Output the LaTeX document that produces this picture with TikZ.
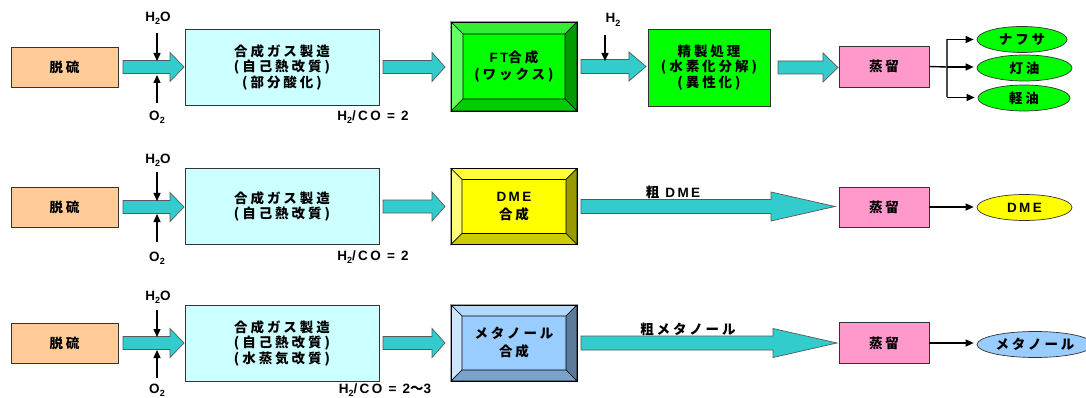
\documentclass[tikz,border=0pt]{standalone}
\usepackage{fontspec}
\setmainfont{Noto Sans CJK JP}[LetterSpace=22]
\newfontfamily\lat{Liberation Sans}[LetterSpace=18]
\usetikzlibrary{calc,arrows.meta,shapes.geometric}
\definecolor{peach}{HTML}{FFCC99}
\definecolor{paleblue}{HTML}{CCFFFF}
\definecolor{teal}{HTML}{33CCCC}
\definecolor{lime}{HTML}{00FF00}
\definecolor{limeL}{HTML}{66FF66}
\definecolor{limeT}{HTML}{33EE33}
\definecolor{limeR}{HTML}{009900}
\definecolor{limeB}{HTML}{00CC00}
\definecolor{yel}{HTML}{FFFF00}
\definecolor{yelL}{HTML}{FFFF77}
\definecolor{yelT}{HTML}{FFFF33}
\definecolor{yelR}{HTML}{999900}
\definecolor{yelB}{HTML}{CCCC00}
\definecolor{sky}{HTML}{99CCFF}
\definecolor{skyL}{HTML}{CCE6FF}
\definecolor{skyT}{HTML}{B3D9FF}
\definecolor{skyR}{HTML}{5C7A99}
\definecolor{skyB}{HTML}{7AA3CC}
\definecolor{pink}{HTML}{FF99CC}
\newcommand\subs[1]{\raisebox{-0.25em}{\fontsize{9}{9}\selectfont #1}}
\newcommand\bevel[6]{%
 \draw[bevline, fill=#3] (#1.north west) -- (#1.north east) -- ([xshift=-#2,yshift=-#2]#1.north east) -- ([xshift=#2,yshift=-#2]#1.north west) -- cycle;
 \draw[bevline, fill=#4] (#1.north west) -- ([xshift=#2,yshift=-#2]#1.north west) -- ([xshift=#2,yshift=#2]#1.south west) -- (#1.south west) -- cycle;
 \draw[bevline, fill=#5] (#1.north east) -- ([xshift=-#2,yshift=-#2]#1.north east) -- ([xshift=-#2,yshift=#2]#1.south east) -- (#1.south east) -- cycle;
 \draw[bevline, fill=#6] (#1.south west) -- ([xshift=#2,yshift=#2]#1.south west) -- ([xshift=-#2,yshift=#2]#1.south east) -- (#1.south east) -- cycle;
 \draw[bevline] (#1.north west) rectangle (#1.south east);}
% #1 from, #2 to, #3 start gap, #4 end gap, #5 head length, #6 shaft half
\newcommand\fatarrow[6]{%
 \draw[fatstyle] let \p1=($(#1.east)+(#3pt,0)$), \p2=($(#2.west)-(#4pt,0)$) in
 (\x1,\y1+#6pt) -- (\x2-#5pt,\y1+#6pt) -- (\x2-#5pt,\y1+14.5pt) -- (\x2,\y1) --
 (\x2-#5pt,\y1-14.5pt) -- (\x2-#5pt,\y1-#6pt) -- (\x1,\y1-#6pt) -- cycle;}
\begin{document}
\begin{tikzpicture}[x=1pt,y=-1pt,
  font=\fontsize{13.5}{15.5}\selectfont\bfseries,
  box/.style={draw=black!80, line width=0.8pt, align=center, inner sep=0pt, outer sep=0pt},
  bevline/.style={draw=black, line width=0.6pt},
  fatstyle/.style={draw=black!65, line width=0.7pt, fill=teal},
  thinarrow/.style={-{Triangle[length=8pt,width=7pt]}, line width=1.4pt},
  thinline/.style={line width=1.4pt},
  lbl/.style={inner sep=0pt, align=center},
  latlbl/.style={inner sep=0pt, align=center, font=\lat\fontsize{13.5}{13.5}\selectfont\bfseries},
  prod/.style={ellipse, draw=black!80, line width=0.7pt, inner sep=0pt, minimum height=26}]
\useasboundingbox[fill=white] (0,0) rectangle (1086,398);

% ---------- Row 1 ----------
\node[box, fill=peach, minimum width=107, minimum height=40] (ds1) at (64.5,67) {脱硫};
\node[box, fill=paleblue, minimum width=194, minimum height=76] (sg1) at (282,67) {合成ガス製造\\(自己熱改質)\\(部分酸化)};
\node[box, fill=lime, minimum width=126, minimum height=89, font=\fontsize{13.5}{17}\selectfont\bfseries] (ft) at (514,66.5) {{\lat FT}合成\\(ワックス)};
\bevel{ft}{12pt}{limeT}{limeL}{limeR}{limeB}
\node[box, fill=lime, minimum width=122, minimum height=77] (rf) at (709,67.5) {精製処理\\(水素化分解)\\(異性化)};
\node[box, fill=pink, minimum width=90, minimum height=41] (di1) at (884,66.5) {蒸留};
\node[prod, fill=lime, minimum width=90] (naph) at (1022,39.5) {ナフサ};
\node[prod, fill=lime, minimum width=95] (kero) at (1024.5,68) {灯油};
\node[prod, fill=lime, minimum width=92] (gasoil) at (1024,98) {軽油};

\fatarrow{ds1}{sg1}{5}{1}{14}{6.5}
\fatarrow{sg1}{ft}{4}{6}{13}{6.5}
\fatarrow{ft}{rf}{4}{2}{17}{7}
\fatarrow{rf}{di1}{8}{1}{15}{6.5}

\node[latlbl] (h2o1) at (158,18) {H\subs{2}O};
\node[latlbl] (o21) at (157,117) {O\subs{2}};
\node[latlbl] (ratio1) at (373,117) {H\subs{2}/CO = 2};
\node[latlbl] (h2) at (613,20) {H\subs{2}};
\coordinate (w1a) at (157,33);  \coordinate (w1b) at (157,61);
\coordinate (o1a) at (157,103); \coordinate (o1b) at (157,75);
\coordinate (h2a) at (605,35);  \coordinate (h2b) at (605,61);
\draw[thinarrow] (w1a) -- (w1b);
\draw[thinarrow] (o1a) -- (o1b);
\draw[thinarrow] (h2a) -- (h2b);

\coordinate (br) at (947,67);
\coordinate (bt) at (947,39.5);
\coordinate (bb) at (947,97.5);
\draw[thinline] (di1.east) -- (br);
\draw[line width=1.4pt, black!70] (bt) -- (bb);
\draw[thinarrow] (bt) -- ([xshift=-3pt]bt -| naph.west);
\draw[thinarrow] (br) -- ([xshift=-3pt]br -| kero.west);
\draw[thinarrow] (bb) -- ([xshift=-3pt]bb -| gasoil.west);

% ---------- Row 2 ----------
\node[box, fill=peach, minimum width=107, minimum height=40] (ds2) at (64.5,207) {脱硫};
\node[box, fill=paleblue, minimum width=194, minimum height=76] (sg2) at (282,206.5) {合成ガス製造\\(自己熱改質)};
\node[box, fill=yel, minimum width=126, minimum height=76, font=\fontsize{13.5}{18}\selectfont\bfseries] (dme) at (514,206.5) {{\lat DME}\\合成};
\bevel{dme}{11pt}{yelT}{yelL}{yelR}{yelB}
\node[box, fill=pink, minimum width=90, minimum height=40] (di2) at (884,207) {蒸留};
\node[prod, fill=yel, minimum width=95, font=\lat\fontsize{13.5}{13.5}\selectfont\bfseries] (dmeP) at (1024.5,207.5) {DME};

\fatarrow{ds2}{sg2}{5}{1}{14}{6.5}
\fatarrow{sg2}{dme}{4}{6}{13}{6.5}
\fatarrow{dme}{di2}{4}{4}{64}{7}
\node[lbl] (crude1) at (673,192) {粗 {\lat DME}};

\node[latlbl] (h2o2) at (158,160) {H\subs{2}O};
\node[latlbl] (o22) at (157,258) {O\subs{2}};
\node[latlbl] (ratio2) at (373,257) {H\subs{2}/CO = 2};
\coordinate (w2a) at (157,172); \coordinate (w2b) at (157,201);
\coordinate (o2a) at (157,242); \coordinate (o2b) at (157,214);
\draw[thinarrow] (w2a) -- (w2b);
\draw[thinarrow] (o2a) -- (o2b);
\draw[thinarrow] (di2.east) -- ([xshift=-3pt]di2.east -| dmeP.west);

% ---------- Row 3 ----------
\node[box, fill=peach, minimum width=107, minimum height=40] (ds3) at (64.5,343) {脱硫};
\node[box, fill=paleblue, minimum width=194, minimum height=76] (sg3) at (282,343) {合成ガス製造\\(自己熱改質)\\(水蒸気改質)};
\node[box, fill=sky, minimum width=126, minimum height=76, font=\fontsize{13.5}{18}\selectfont\bfseries] (meoh) at (514,343) {メタノール\\合成};
\bevel{meoh}{11pt}{skyT}{skyL}{skyR}{skyB}
\node[box, fill=pink, minimum width=90, minimum height=41] (di3) at (884,343) {蒸留};
\node[prod, fill=sky, minimum width=116] (meohP) at (1035,344.5) {メタノール};

\fatarrow{ds3}{sg3}{5}{1}{14}{6.5}
\fatarrow{sg3}{meoh}{4}{6}{13}{6.5}
\fatarrow{meoh}{di3}{4}{2}{64}{7}
\node[lbl] (crude2) at (688,329) {粗メタノール};

\node[latlbl] (h2o3) at (158,297) {H\subs{2}O};
\node[latlbl] (o23) at (157,390) {O\subs{2}};
\node[latlbl] (ratio3) at (385,390) {H\subs{2}/CO = 2{\fontspec{Noto Sans CJK JP}〜}3};
\coordinate (w3a) at (157,310); \coordinate (w3b) at (157,337);
\coordinate (o3a) at (157,378); \coordinate (o3b) at (157,350);
\draw[thinarrow] (w3a) -- (w3b);
\draw[thinarrow] (o3a) -- (o3b);
\draw[thinarrow] (di3.east) -- ([xshift=-3pt]di3.east -| meohP.west);
\end{tikzpicture}
\end{document}
